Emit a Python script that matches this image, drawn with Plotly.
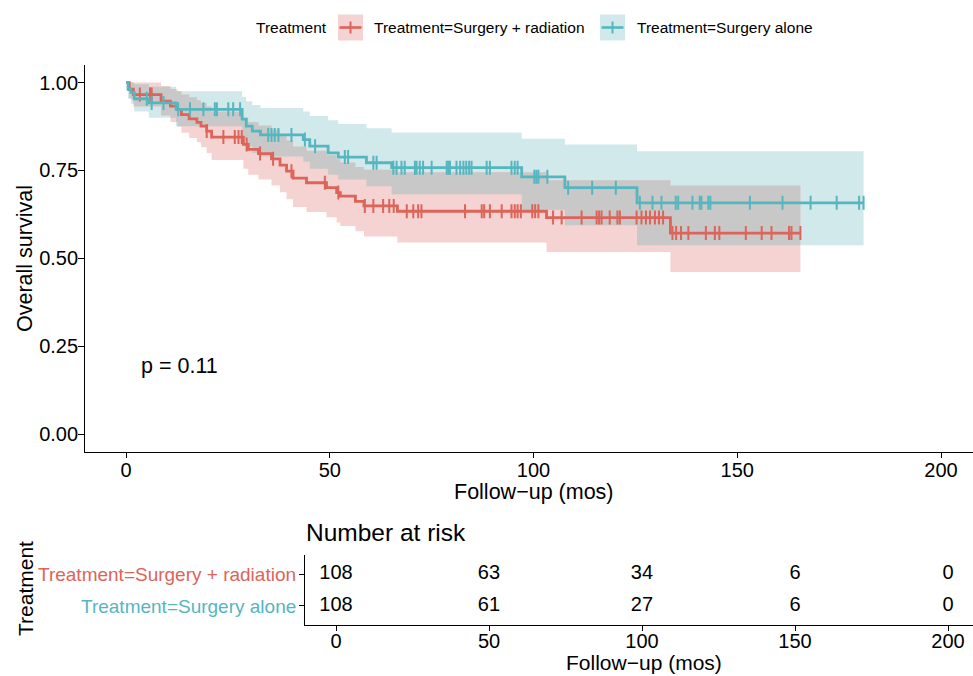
import plotly.graph_objects as go
from bisect import bisect_right

# ---------------- data ----------------
groups = ["Treatment=Surgery + radiation", "Treatment=Surgery alone"]

rad_time = [0, 0.8, 1.8, 8.6, 10.9, 12.6, 13.6, 15.5, 17.4, 18.4, 19.8, 21.0, 28.8, 30.0,
            32.5, 35.7, 37.8, 39.4, 41.0, 44.3, 49.2, 51.7, 52.6, 56.3, 58.4, 66.6, 103.2, 133.6]
rad_surv = [1.0, 0.981, 0.966, 0.947, 0.933, 0.923, 0.909, 0.897, 0.887, 0.876, 0.862, 0.845, 0.824, 0.810,
            0.798, 0.783, 0.765, 0.748, 0.728, 0.715, 0.701, 0.687, 0.677, 0.662, 0.649, 0.634, 0.616, 0.572]
rad_upper = [1.0, 1.0, 1.0, 0.99, 0.982, 0.975, 0.966, 0.958, 0.95, 0.942, 0.932, 0.918, 0.90, 0.888,
             0.878, 0.866, 0.85, 0.835, 0.818, 0.806, 0.794, 0.782, 0.773, 0.76, 0.752, 0.745, 0.722, 0.707]
rad_lower = [1.0, 0.955, 0.932, 0.906, 0.888, 0.875, 0.857, 0.842, 0.83, 0.816, 0.80, 0.78, 0.755, 0.738,
             0.724, 0.707, 0.688, 0.668, 0.646, 0.632, 0.617, 0.602, 0.592, 0.577, 0.562, 0.545, 0.518, 0.461]
rad_end = 165.5
rad_censor = [3.4, 5.9, 6.3, 19.8, 23.9, 26.7, 27.6, 28.4, 29.6, 32.9, 36.1, 40.6, 48.8, 52.1,
              58.6, 60.7, 63.1, 64.6, 65.7, 68.9, 70.5, 71.7, 72.5, 83.2, 87.3, 87.9, 89.3, 92.2,
              94.6, 95.4, 96.1, 96.9, 99.7, 100.4, 101.2, 104.8, 106.9, 111.8, 115.5, 116.1, 116.7,
              118.7, 120.6, 121.2, 125.3, 126.5, 127.6, 128.6, 129.8, 130.8, 131.8, 134.1, 135.0,
              136.2, 138.0, 142.3, 144.5, 145.6, 152.1, 156.0, 158.4, 162.7, 163.3, 165.5]

alone_time = [0, 0.5, 1.2, 2.0, 5.6, 12.3, 28.5, 29.5, 31.0, 33.0, 43.5, 45.1, 49.6, 52.1,
              59.0, 65.2, 97.1, 107.7, 125.4]
alone_surv = [1.0, 0.981, 0.972, 0.954, 0.942, 0.924, 0.896, 0.876, 0.862, 0.851, 0.838, 0.819, 0.800, 0.788,
              0.772, 0.758, 0.732, 0.701, 0.658]
alone_upper = [1.0, 1.0, 1.0, 0.995, 0.988, 0.975, 0.960, 0.947, 0.936, 0.928, 0.918, 0.905, 0.893, 0.882,
               0.870, 0.858, 0.840, 0.824, 0.805]
alone_lower = [1.0, 0.955, 0.94, 0.918, 0.90, 0.876, 0.840, 0.818, 0.800, 0.790, 0.775, 0.755, 0.738, 0.724,
               0.705, 0.682, 0.638, 0.594, 0.537]
alone_end = 181.0
alone_censor = [5.1, 6.3, 9.2, 12.8, 15.7, 19.0, 21.8, 22.3, 25.1, 26.3, 28.0, 34.9, 35.7, 36.5, 37.4,
                40.6, 43.9, 46.4, 53.7, 54.5, 60.7, 61.5, 65.6, 66.4, 67.6, 68.4, 70.9, 71.3, 72.1,
                72.9, 75.0, 78.7, 79.1, 79.5, 81.1, 82.0, 82.8, 83.5, 84.2, 84.8, 88.5, 89.3, 94.6,
                95.4, 96.1, 100.2, 100.7, 101.2, 103.4, 108.5, 114.4, 120.2, 126.1, 129.2, 131.4,
                134.9, 135.5, 139.0, 140.8, 141.2, 142.9, 143.4, 153.1, 161.1, 168.0, 174.4, 179.9, 181.0]

risk_times = [0, 50, 100, 150, 200]
risk_rad = [108, 63, 34, 6, 0]
risk_alone = [108, 61, 27, 6, 0]

x_ticks = [0, 50, 100, 150, 200]
y_ticks = [0, 0.25, 0.5, 0.75, 1.0]
y_ticklabels = ["0.00", "0.25", "0.50", "0.75", "1.00"]
p_text = "p = 0.11"
x_title = "Follow\u2212up (mos)"
y_title = "Overall survival"
legend_title = "Treatment"
risk_title = "Number at risk"

# ---------------- styles ----------------
RED = "#DC6459"
TEAL = "#56B6C0"
RED_BAND = "#F5D3D2"
TEAL_BAND = "#D2E9EC"
GRAY_BAND = "#C8C8C8"
FONT = "Liberation Sans, Arial, Helvetica, sans-serif"
W, H = 973, 676


def px(x):
    return x / W


def py(y):
    return 1 - y / H


def step_at(times, vals, t):
    return vals[bisect_right(times, t) - 1]


def stair(times, vals, end):
    return list(times) + [end], list(vals) + [vals[-1]]


fig = go.Figure()


def add_band(times, up, lo, end, color):
    xu, yu = stair(times, up, end)
    xl, yl = stair(times, lo, end)
    fig.add_trace(go.Scatter(x=xu, y=yu, mode="lines", line=dict(width=0, shape="hv"),
                             showlegend=False, hoverinfo="skip", xaxis="x", yaxis="y"))
    fig.add_trace(go.Scatter(x=xl, y=yl, mode="lines", line=dict(width=0, shape="hv"),
                             fill="tonexty", fillcolor=color, showlegend=False,
                             hoverinfo="skip", xaxis="x", yaxis="y"))


add_band(alone_time, alone_upper, alone_lower, alone_end, TEAL_BAND)
add_band(rad_time, rad_upper, rad_lower, rad_end, RED_BAND)

# overlap of the two confidence bands
min_end = min(rad_end, alone_end)
grid = sorted(set(t for t in rad_time + alone_time if t <= min_end))
ov_hi, ov_lo = [], []
for t in grid:
    hi = min(step_at(rad_time, rad_upper, t), step_at(alone_time, alone_upper, t))
    lo = max(step_at(rad_time, rad_lower, t), step_at(alone_time, alone_lower, t))
    if hi < lo:
        hi = lo
    ov_hi.append(hi)
    ov_lo.append(lo)
add_band(grid, ov_hi, ov_lo, min_end, GRAY_BAND)

# survival curves + censor marks
for times, surv, end, cens, col in [
    (rad_time, rad_surv, rad_end, rad_censor, RED),
    (alone_time, alone_surv, alone_end, alone_censor, TEAL),
]:
    xs, ys = stair(times, surv, end)
    fig.add_trace(go.Scatter(x=xs, y=ys, mode="lines", line=dict(color=col, width=2.8, shape="hv"),
                             showlegend=False, xaxis="x", yaxis="y"))
    fig.add_trace(go.Scatter(x=cens, y=[step_at(times, surv, c) for c in cens], mode="markers",
                             marker=dict(symbol="line-ns-open", size=10, color=col,
                                         line=dict(width=2, color=col)),
                             showlegend=False, xaxis="x", yaxis="y"))

# risk table numbers
for yv, vals in [(2, risk_rad), (1, risk_alone)]:
    fig.add_trace(go.Scatter(x=risk_times, y=[yv] * len(risk_times), mode="text",
                             text=[str(v) for v in vals],
                             textfont=dict(family=FONT, size=20, color="black"),
                             textposition="middle center", showlegend=False,
                             xaxis="x2", yaxis="y2"))

axis_common = dict(showline=True, linecolor="black", linewidth=1.3, ticks="outside",
                   tickwidth=1.3, tickcolor="black", showgrid=False, zeroline=False,
                   tickfont=dict(family=FONT, size=20, color="black"))

fig.update_layout(
    width=W, height=H, autosize=False,
    margin=dict(l=0, r=0, t=0, b=0),
    paper_bgcolor="white", plot_bgcolor="white",
    font=dict(family=FONT, color="black"),
    showlegend=False,
    xaxis=dict(domain=[px(85.25), 1], range=[-10, (973 - 126) / 4.075], tickvals=x_ticks,
               anchor="y", ticklen=5, ticklabelstandoff=-5, **axis_common),
    yaxis=dict(domain=[py(451.7), py(65)], range=[-0.05, 1.05], tickvals=y_ticks,
               ticktext=y_ticklabels, anchor="x", ticklen=6, ticklabelstandoff=-4, **axis_common),
    xaxis2=dict(domain=[px(305.4), 1], range=[-10, (973 - 336) / 3.06], tickvals=x_ticks,
                anchor="y2", ticklen=5, ticklabelstandoff=-7, **axis_common),
    yaxis2=dict(domain=[py(625), py(555)], range=[0.4, 2.6], tickvals=[1, 2],
                ticktext=["", ""], anchor="x2", ticklen=5, **axis_common),
)

ann = []
# axis titles
ann.append(dict(text=y_title, x=px(25), y=py(259), xref="paper", yref="paper", textangle=-90,
                showarrow=False, font=dict(family=FONT, size=21.5), xanchor="center", yanchor="middle"))
ann.append(dict(text=x_title, x=px(534), y=py(492), xref="paper", yref="paper",
                showarrow=False, font=dict(family=FONT, size=21.5), xanchor="center", yanchor="middle"))
ann.append(dict(text=x_title, x=px(644), y=py(676), xref="paper", yref="paper",
                showarrow=False, font=dict(family=FONT, size=21), xanchor="center", yanchor="bottom"))
ann.append(dict(text=risk_title, x=px(304), y=py(532), xref="paper", yref="paper",
                showarrow=False, font=dict(family=FONT, size=24.5), xanchor="left", yanchor="middle"))
ann.append(dict(text=legend_title, x=px(25), y=py(589), xref="paper", yref="paper", textangle=-90,
                showarrow=False, font=dict(family=FONT, size=21), xanchor="center", yanchor="middle"))
# p value
ann.append(dict(text=p_text, x=3.2, y=0.195, xref="x", yref="y", showarrow=False,
                font=dict(family=FONT, size=21.5), xanchor="left", yanchor="middle"))
# risk table row labels
ann.append(dict(text=groups[0], x=px(298), y=py(574), xref="paper", yref="paper", showarrow=False,
                font=dict(family=FONT, size=19, color=RED), xanchor="right", yanchor="middle"))
ann.append(dict(text=groups[1], x=px(298), y=py(606), xref="paper", yref="paper", showarrow=False,
                font=dict(family=FONT, size=19, color=TEAL), xanchor="right", yanchor="middle"))

# legend (manual)
ly = 27.5
ann.append(dict(text=legend_title, x=px(254), y=py(ly), xref="paper", yref="paper", showarrow=False,
                font=dict(family=FONT, size=15.5), xanchor="left", yanchor="middle"))
shapes = []
for (kx, col, band, lab, tx) in [(338, RED, RED_BAND, groups[0], 372),
                                 (600, TEAL, TEAL_BAND, groups[1], 635)]:
    shapes.append(dict(type="rect", xref="paper", yref="paper", x0=px(kx), x1=px(kx + 25),
                       y0=py(ly + 13), y1=py(ly - 13), fillcolor=band, line=dict(width=0)))
    shapes.append(dict(type="line", xref="paper", yref="paper", x0=px(kx + 1.5), x1=px(kx + 23.5),
                       y0=py(ly), y1=py(ly), line=dict(color=col, width=2.6)))
    shapes.append(dict(type="line", xref="paper", yref="paper", x0=px(kx + 12.5), x1=px(kx + 12.5),
                       y0=py(ly - 6), y1=py(ly + 6), line=dict(color=col, width=2)))
    ann.append(dict(text=lab, x=px(tx), y=py(ly), xref="paper", yref="paper", showarrow=False,
                    font=dict(family=FONT, size=15.5), xanchor="left", yanchor="middle"))

fig.update_layout(annotations=ann, shapes=shapes)
fig.write_html("out.html", config={"displayModeBar": False},
               post_script="document.body.style.margin='0';document.body.style.overflow='hidden';")
